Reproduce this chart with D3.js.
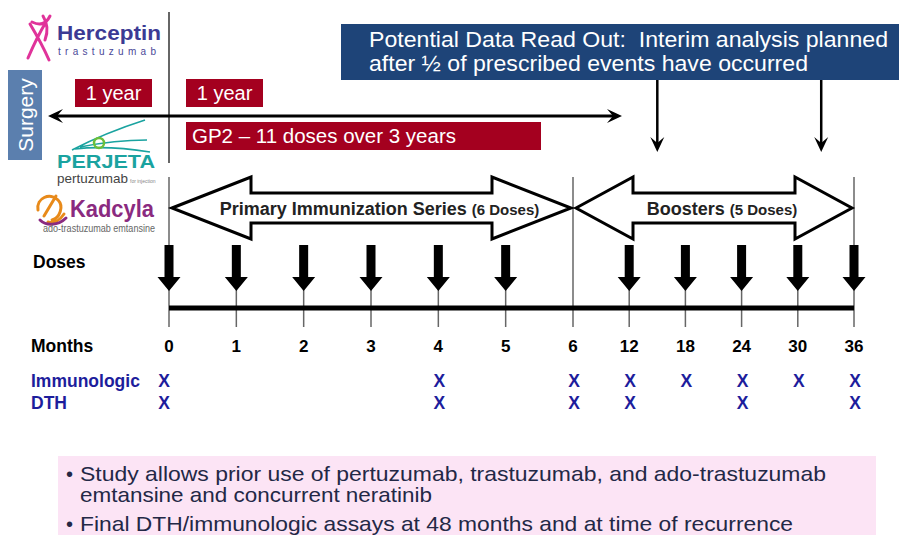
<!DOCTYPE html>
<html>
<head>
<meta charset="utf-8">
<script src="https://cdn.jsdelivr.net/npm/d3@7"></script>
<style>
  body { margin: 0; background: #fff; }
  svg { display: block; font-family: "Liberation Sans", Arial, sans-serif; }
  text { white-space: pre; }
</style>
</head>
<body>
<svg width="902" height="535"></svg>
<script>
// ---- data ----
const months = [0, 1, 2, 3, 4, 5, 6, 12, 18, 24, 30, 36];
const doseMonths = [0, 1, 2, 3, 4, 5, 12, 18, 24, 30, 36];
const immunologicMonths = [0, 4, 6, 12, 18, 24, 30, 36];
const dthMonths = [0, 4, 6, 12, 24, 36];
const phaseNames = ["Primary Immunization Series", "Boosters"];
const phaseNotes = ["(6 Doses)", "(5 Doses)"];
const phaseStart = [0, 6];
const phaseEnd = [6, 36];
const readOutMonths = [15, 32.5];
const yearLabels = ["1 year", "1 year"];
const readOutLines = ["Potential Data Read Out:  Interim analysis planned", "after \u00bd of prescribed events have occurred"];
const notes = [
  ["Study allows prior use of pertuzumab, trastuzumab, and ado-trastuzumab", "emtansine and concurrent neratinib"],
  ["Final DTH/immunologic assays at 48 months and at time of recurrence"]
];

const svg = d3.select("svg");
const red = "#a4001f", navy = "#1e4478", xblue = "#1d1d9c";

// months are spaced monthly for the first six, then every 6 months
const x = d3.scaleLinear().domain([0, 6, 36]).range([169, 573, 854]);

// ---- top: herceptin line, surgery, year boxes ----
svg.append("line").attr("x1", 169).attr("x2", 169).attr("y1", 12).attr("y2", 163)
  .attr("stroke", "#333").attr("stroke-width", 1.5);

svg.append("rect").attr("x", 8).attr("y", 70).attr("width", 34).attr("height", 90).attr("fill", "#5b7fae");
svg.append("text").attr("transform", "translate(33,115) rotate(-90)")
  .attr("text-anchor", "middle").attr("fill", "#fff").attr("font-size", 21).text("Surgery");

const yearX = [75, 186];
yearLabels.forEach((t, i) => {
  svg.append("rect").attr("x", yearX[i]).attr("y", 79).attr("width", 77).attr("height", 28).attr("fill", red);
  svg.append("text").attr("x", yearX[i] + 38.5).attr("y", 100).attr("text-anchor", "middle")
    .attr("fill", "#fff").attr("font-size", 20).text(t);
});

svg.append("rect").attr("x", 186).attr("y", 122).attr("width", 355).attr("height", 28).attr("fill", red);
svg.append("text").attr("x", 192).attr("y", 143).attr("fill", "#fff").attr("font-size", 20.5)
  .text("GP2 \u2013 11 doses over 3 years");

// long double-headed arrow
svg.append("line").attr("x1", 56).attr("x2", 614).attr("y1", 116).attr("y2", 116)
  .attr("stroke", "#000").attr("stroke-width", 3);
function chevron(tipX, tipY, dir, len, half) {
  return `M${tipX},${tipY} L${tipX - dir * len},${tipY - half} L${tipX - dir * len * 0.6},${tipY} L${tipX - dir * len},${tipY + half} Z`;
}
svg.append("path").attr("d", chevron(48, 116, -1, 15, 7)).attr("fill", "#000");
svg.append("path").attr("d", chevron(622, 116, 1, 15, 7)).attr("fill", "#000");

// read-out box
const readOutWidths = [519, 439];
svg.append("rect").attr("x", 341).attr("y", 24).attr("width", 558).attr("height", 56).attr("fill", navy);
readOutLines.forEach((t, i) => {
  svg.append("text").attr("x", 369).attr("y", 47 + i * 24).attr("fill", "#fff").attr("font-size", 21.5)
    .attr("textLength", readOutWidths[i]).attr("lengthAdjust", "spacingAndGlyphs").text(t);
});
readOutMonths.forEach(m => {
  const cx = x(m);
  svg.append("line").attr("x1", cx).attr("x2", cx).attr("y1", 80).attr("y2", 146)
    .attr("stroke", "#000").attr("stroke-width", 2.5);
  svg.append("path").attr("transform", `translate(${cx},152) rotate(90)`)
    .attr("d", chevron(0, 0, 1, 15, 7)).attr("fill", "#000");
});

// ---- logos (drawn roughly) ----
const logo = svg.append("g");
// herceptin archer
logo.append("path").attr("d", "M30,24 C36,34 42,44 49,60 M28,58 C34,44 40,32 46,22 M32,22 C40,26 46,24 50,16 M43,16 C48,24 48,32 45,40")
  .attr("fill", "none").attr("stroke", "#e0339a").attr("stroke-width", 3).attr("stroke-linecap", "round");
logo.append("text").attr("x", 57).attr("y", 40).attr("fill", "#3c3a94").attr("font-weight", "bold")
  .attr("font-size", 20).attr("textLength", 104).attr("lengthAdjust", "spacingAndGlyphs").text("Herceptin");
logo.append("text").attr("x", 58).attr("y", 55).attr("fill", "#4a4898").attr("font-size", 10)
  .attr("textLength", 100).attr("letter-spacing", 2).text("trastuzumab");
// perjeta swoosh
logo.append("path").attr("d", "M72,150 C95,138 120,128 145,120 M80,147 C105,142 125,140 147,140 M75,149 C100,146 125,148 150,152")
  .attr("fill", "none").attr("stroke", "#1aa3a0").attr("stroke-width", 1.6);
logo.append("circle").attr("cx", 99).attr("cy", 143).attr("r", 5).attr("fill", "none")
  .attr("stroke", "#6cbf3a").attr("stroke-width", 2.5);
logo.append("text").attr("x", 57).attr("y", 168).attr("fill", "#1aa3a0").attr("font-weight", "bold")
  .attr("font-size", 18).attr("textLength", 98).attr("lengthAdjust", "spacingAndGlyphs").text("PERJETA");
logo.append("text").attr("x", 57).attr("y", 183).attr("fill", "#444").attr("font-size", 13)
  .attr("textLength", 71).attr("lengthAdjust", "spacingAndGlyphs").text("pertuzumab");
logo.append("text").attr("x", 130).attr("y", 183).attr("fill", "#888").attr("font-size", 5).text("for injection");
// kadcyla
logo.append("path").attr("d", "M38,210 C36,198 50,192 58,200 C64,206 60,218 52,220 M44,216 L56,196 M48,222 C54,224 60,220 64,214")
  .attr("fill", "none").attr("stroke", "#e88a1a").attr("stroke-width", 3).attr("stroke-linecap", "round");
logo.append("path").attr("d", "M40,220 C46,226 58,226 66,218").attr("fill", "none")
  .attr("stroke", "#8a2a80").attr("stroke-width", 3).attr("stroke-linecap", "round");
logo.append("text").attr("x", 70).attr("y", 217).attr("fill", "#8a2a80").attr("font-weight", "bold")
  .attr("font-size", 23).attr("textLength", 84).attr("lengthAdjust", "spacingAndGlyphs").text("Kadcyla");
logo.append("text").attr("x", 43).attr("y", 232).attr("fill", "#666").attr("font-size", 11)
  .attr("textLength", 112).attr("lengthAdjust", "spacingAndGlyphs").text("ado-trastuzumab emtansine");

// ---- timeline ----
// tall lines at phase boundaries
const boundaries = [0, 6, 36];
svg.selectAll(".bound").data(boundaries).enter().append("line")
  .attr("x1", d => x(d)).attr("x2", d => x(d)).attr("y1", 177).attr("y2", 327)
  .attr("stroke", "#666").attr("stroke-width", 1.5);
svg.selectAll(".tick").data(months.filter(m => !boundaries.includes(m))).enter().append("line")
  .attr("x1", d => x(d)).attr("x2", d => x(d)).attr("y1", 285).attr("y2", 327)
  .attr("stroke", "#666").attr("stroke-width", 1.5);

// phase arrows
function doubleArrow(x1, x2, cy, hl, hh, sh) {
  return `M${x1},${cy} L${x1 + hl},${cy - hh} L${x1 + hl},${cy - sh} L${x2 - hl},${cy - sh} L${x2 - hl},${cy - hh} L${x2},${cy}` +
    ` L${x2 - hl},${cy + hh} L${x2 - hl},${cy + sh} L${x1 + hl},${cy + sh} L${x1 + hl},${cy + hh} Z`;
}
phaseNames.forEach((name, i) => {
  const x1 = x(phaseStart[i]) + 3, x2 = x(phaseEnd[i]) - 2;
  const hl = i === 0 ? 79 : 57;
  svg.append("path").attr("d", doubleArrow(x1, x2, 208, hl, 31, 15))
    .attr("fill", "#fff").attr("stroke", "#000").attr("stroke-width", 3).attr("stroke-linejoin", "miter");
  const t = svg.append("text").attr("x", (x1 + x2) / 2 + 8).attr("y", 215).attr("text-anchor", "middle")
    .attr("font-weight", "bold").attr("fill", "#222");
  t.append("tspan").attr("font-size", 18).text(name + " ");
  t.append("tspan").attr("font-size", 15).text(phaseNotes[i]);
});

// dose arrows
svg.selectAll(".dose").data(doseMonths).enter().append("path")
  .attr("transform", d => `translate(${x(d)},0)`)
  .attr("d", "M-4.5,245 L4.5,245 L4.5,277 L11.5,277 L0,291 L-11.5,277 L-4.5,277 Z")
  .attr("fill", "#000");

// bar
svg.append("line").attr("x1", x(0)).attr("x2", x(36)).attr("y1", 308).attr("y2", 308)
  .attr("stroke", "#000").attr("stroke-width", 5);

// labels
svg.append("text").attr("x", 33).attr("y", 268).attr("font-weight", "bold").attr("font-size", 17.5).text("Doses");
svg.append("text").attr("x", 31).attr("y", 352).attr("font-weight", "bold").attr("font-size", 17.5).text("Months");
svg.selectAll(".mlab").data(months).enter().append("text")
  .attr("x", d => x(d)).attr("y", 352).attr("text-anchor", "middle")
  .attr("font-weight", "bold").attr("font-size", 17).text(d => d);

const rows = [["Immunologic", immunologicMonths, 387], ["DTH", dthMonths, 409]];
rows.forEach(([name, ms, y]) => {
  svg.append("text").attr("x", 31).attr("y", y).attr("font-weight", "bold").attr("font-size", 17.5)
    .attr("fill", xblue).text(name);
  svg.selectAll(null).data(ms).enter().append("text")
    .attr("x", d => x(d) + (d === 0 ? -5 : 1)).attr("y", y).attr("text-anchor", "middle")
    .attr("font-weight", "bold").attr("font-size", 17.5).attr("fill", xblue).text("X");
});

// ---- notes box ----
const noteWidths = [[746, 352], [713]];
svg.append("rect").attr("x", 58).attr("y", 456).attr("width", 818).attr("height", 90).attr("fill", "#fce4f5");
let ny = 481;
notes.forEach((lines, k) => {
  lines.forEach((line, j) => {
    if (j === 0) svg.append("text").attr("x", 66).attr("y", ny).attr("font-size", 20).attr("fill", "#232846").text("\u2022");
    svg.append("text").attr("x", 80).attr("y", ny).attr("font-size", 21).attr("fill", "#232846")
      .attr("textLength", noteWidths[k][j]).attr("lengthAdjust", "spacingAndGlyphs").text(line);
    ny += 21;
  });
  ny += 8;
});
</script>
</body>
</html>
